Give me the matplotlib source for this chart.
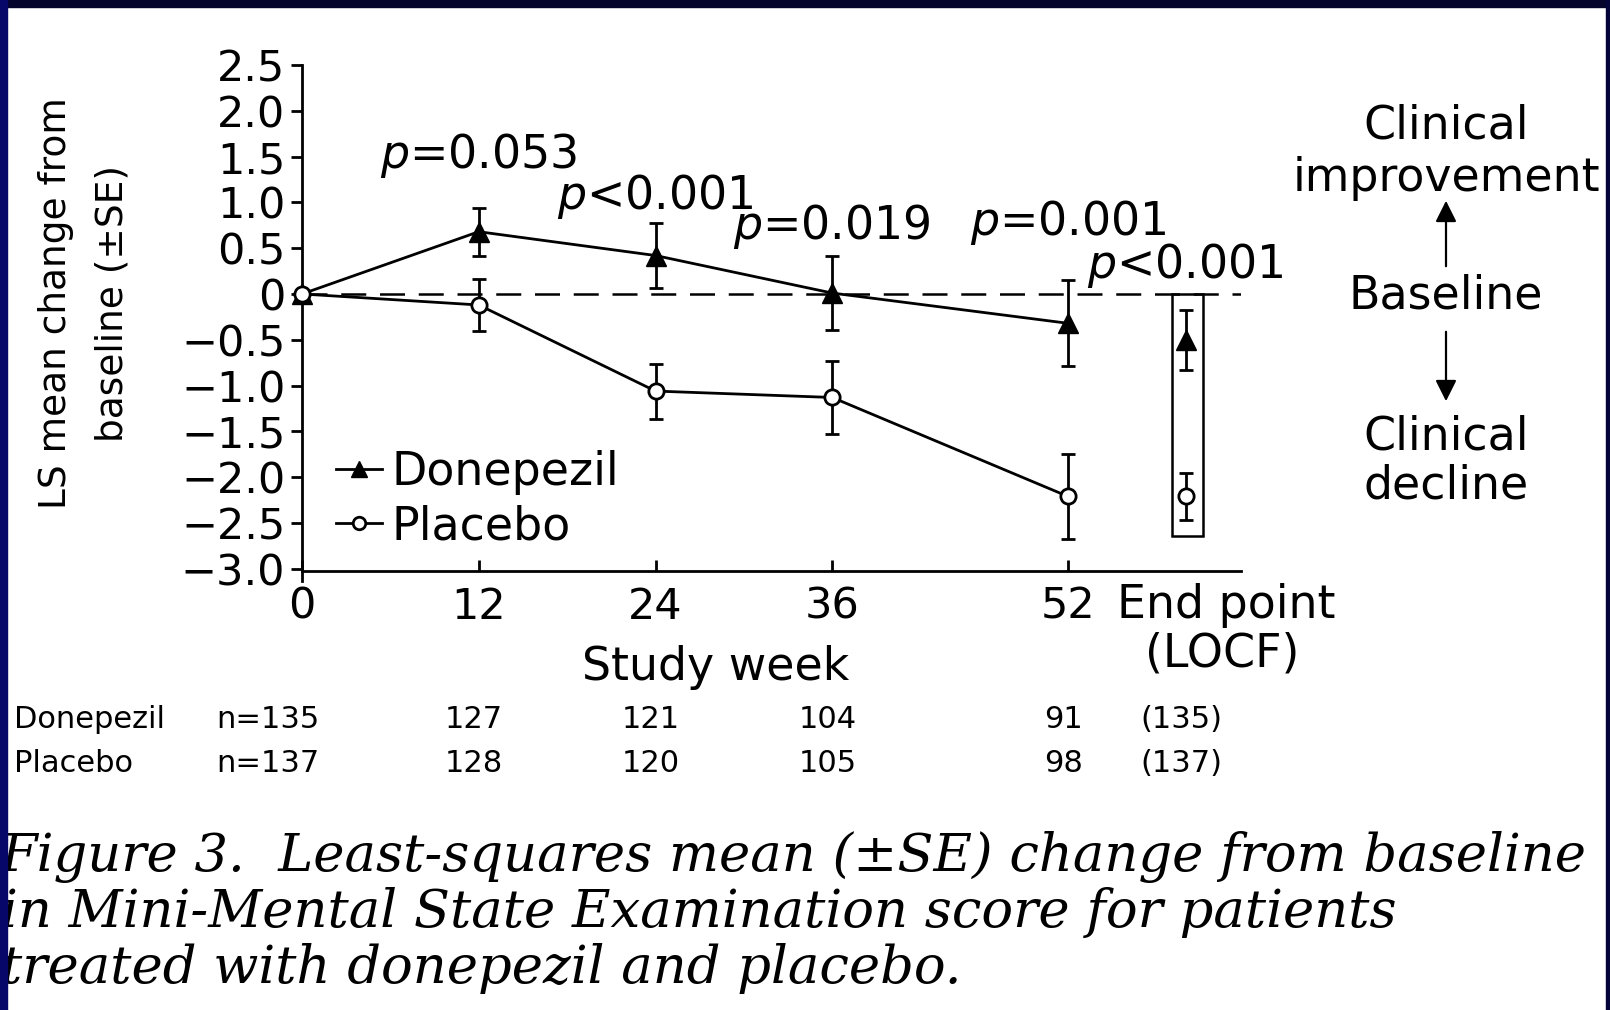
import numpy as np
import matplotlib
matplotlib.use("Agg")
import matplotlib.pyplot as plt
from matplotlib.patches import Rectangle, FancyArrowPatch
from matplotlib.lines import Line2D

# LS mean change from baseline (±SE) by study week
weeks = [0, 12, 24, 36, 52]
donepezil_mean = [0.0, 0.68, 0.42, 0.01, -0.32]
donepezil_se = [0.0, 0.26, 0.35, 0.40, 0.47]
placebo_mean = [0.0, -0.12, -1.06, -1.13, -2.21]
placebo_se = [0.0, 0.28, 0.30, 0.40, 0.46]

# end point (LOCF)
endpoint_week = 60
donepezil_end, donepezil_end_se = -0.50, 0.33
placebo_end, placebo_end_se = -2.21, 0.26

p_labels = ["$p$=0.053", "$p$<0.001", "$p$=0.019", "$p$=0.001", "$p$<0.001"]

tick_weeks = [0, 12, 24, 36, 52]
ytick_vals = [-3.0, -2.5, -2.0, -1.5, -1.0, -0.5, 0, 0.5, 1.0, 1.5, 2.0, 2.5]
ytick_labels = ["\u22123.0", "\u22122.5", "\u22122.0", "\u22121.5", "\u22121.0", "\u22120.5",
                "0", "0.5", "1.0", "1.5", "2.0", "2.5"]

n_donepezil = ["n=135", "127", "121", "104", "91", "(135)"]
n_placebo = ["n=137", "128", "120", "105", "98", "(137)"]

caption = ["Figure 3.  Least-squares mean (\u00b1SE) change from baseline",
           "in Mini-Mental State Examination score for patients",
           "treated with donepezil and placebo."]

W, H = 1610, 1010


def fx(px):
    return px / W


def fy(py):
    return 1 - py / H


fig = plt.figure(figsize=(W / 100, H / 100), dpi=100)
fig.patch.set_facecolor("white")

ax = fig.add_axes([fx(302), fy(582.5), (1241 - 302) / W, (582.5 - 65) / H])
ax.set_xlim(0, 63.75)
ax.set_ylim(-3.15, 2.5)

lw = 2.0
ax.axhline(0, color="black", lw=1.8, linestyle=(0, (10, 5.5)), zorder=1)

ax.errorbar(weeks, donepezil_mean, yerr=donepezil_se, color="black", lw=lw,
            marker="^", ms=14, mfc="black", mec="black", capsize=5, capthick=lw,
            elinewidth=lw, clip_on=False, zorder=3)
ax.errorbar(weeks, placebo_mean, yerr=placebo_se, color="black", lw=lw,
            marker="o", ms=11, mfc="white", mec="black", mew=2, capsize=5,
            capthick=lw, elinewidth=lw, clip_on=False, zorder=4)

ax.errorbar([endpoint_week], [donepezil_end], yerr=[donepezil_end_se], color="black",
            marker="^", ms=14, capsize=5, capthick=lw, elinewidth=lw, ls="none", zorder=3)
ax.errorbar([endpoint_week], [placebo_end], yerr=[placebo_end_se], color="black",
            marker="o", ms=11, mfc="white", mew=2, capsize=5, capthick=lw,
            elinewidth=lw, ls="none", zorder=4)
ax.add_patch(Rectangle((59.06, -2.64), 2.11, 2.64, fill=False, lw=1.8,
                       edgecolor="black", zorder=2))

# significance labels above each visit
p_x = weeks[1:] + [endpoint_week]
p_y = [1.38, 0.93, 0.60, 0.64, 0.17]
for lab, x, y in zip(p_labels, p_x, p_y):
    ax.text(x, y, lab, ha="center", va="baseline", fontsize=33)

for s in ["top", "right"]:
    ax.spines[s].set_visible(False)
ax.spines["left"].set_bounds(-3.13, 2.5)
ax.spines["left"].set_linewidth(2)
ax.spines["bottom"].set_position(("data", -3.02))
ax.spines["bottom"].set_linewidth(2)

ax.set_yticks(ytick_vals)
ax.set_yticklabels(ytick_labels)
ax.set_xticks(tick_weeks)
ax.set_xticklabels([str(w) for w in tick_weeks])
ax.tick_params(axis="y", direction="out", length=8, width=2, labelsize=31, pad=4)
ax.tick_params(axis="x", direction="in", length=8, width=2, labelsize=31, pad=11)

handles = [Line2D([], [], color="black", lw=lw, marker="^", ms=12, mfc="black"),
           Line2D([], [], color="black", lw=lw, marker="o", ms=9, mfc="white", mew=2)]
ax.legend(handles, ["Donepezil", "Placebo"], loc="center left",
          bbox_to_anchor=(0.0365, 0.16), frameon=False, fontsize=33,
          handlelength=1.0, handletextpad=0.2, labelspacing=0.2,
          borderpad=0, borderaxespad=0, numpoints=1)

fig.text(fx(1226), fy(606), "End point", ha="center", va="center", fontsize=33)
fig.text(fx(1222), fy(654), "(LOCF)", ha="center", va="center", fontsize=33)
fig.text(fx(716), fy(667), "Study week", ha="center", va="center", fontsize=33)

fig.text(fx(84), fy(303), "LS mean change from\nbaseline (\u00b1SE)", rotation=90,
         ha="center", va="center", fontsize=27, linespacing=1.75)

# direction key on the right
key_text = ["Clinical", "improvement", "Baseline", "Clinical", "decline"]
key_y = [126, 179, 296, 437, 486]
for t, y in zip(key_text, key_y):
    fig.text(fx(1446), fy(y), t, ha="center", va="center", fontsize=33)
for y0, y1 in [(269, 198), (329, 404)]:
    fig.patches.append(FancyArrowPatch((fx(1446), fy(y0)), (fx(1446), fy(y1)),
                                       transform=fig.transFigure, arrowstyle="-|>",
                                       mutation_scale=32, lw=1.6, color="black"))

# numbers of patients per visit
n_x = weeks + [endpoint_week]
for row, (name, counts) in enumerate([("Donepezil", n_donepezil), ("Placebo", n_placebo)]):
    yy = fy(719 + row * 45)
    fig.text(fx(14), yy, name, ha="left", va="center", fontsize=22)
    for i, (x, c) in enumerate(zip(n_x, counts)):
        px = ax.transData.transform((x, 0))[0]
        if i == 0:
            fig.text(fx(319), yy, c, ha="right", va="center", fontsize=22)
        else:
            fig.text(px / W - 0.003, yy, c, ha="center", va="center", fontsize=22)

for i, line in enumerate(caption):
    fig.text(fx(1), fy(857 + i * 56), line, ha="left", va="center", fontsize=38,
             family="DejaVu Serif", style="italic")

# navy frame around the slide
fig.patches.append(Rectangle((0, fy(7)), 1, 7 / H, transform=fig.transFigure,
                             color="#04042c", zorder=10))
fig.patches.append(Rectangle((0, 0), 7 / W, 1, transform=fig.transFigure,
                             color="#07076a", zorder=10))
fig.patches.append(Rectangle((fx(1606), 0), 4 / W, 1, transform=fig.transFigure,
                             color="#04043a", zorder=10))

fig.savefig("out.png", dpi=100, facecolor="white")
